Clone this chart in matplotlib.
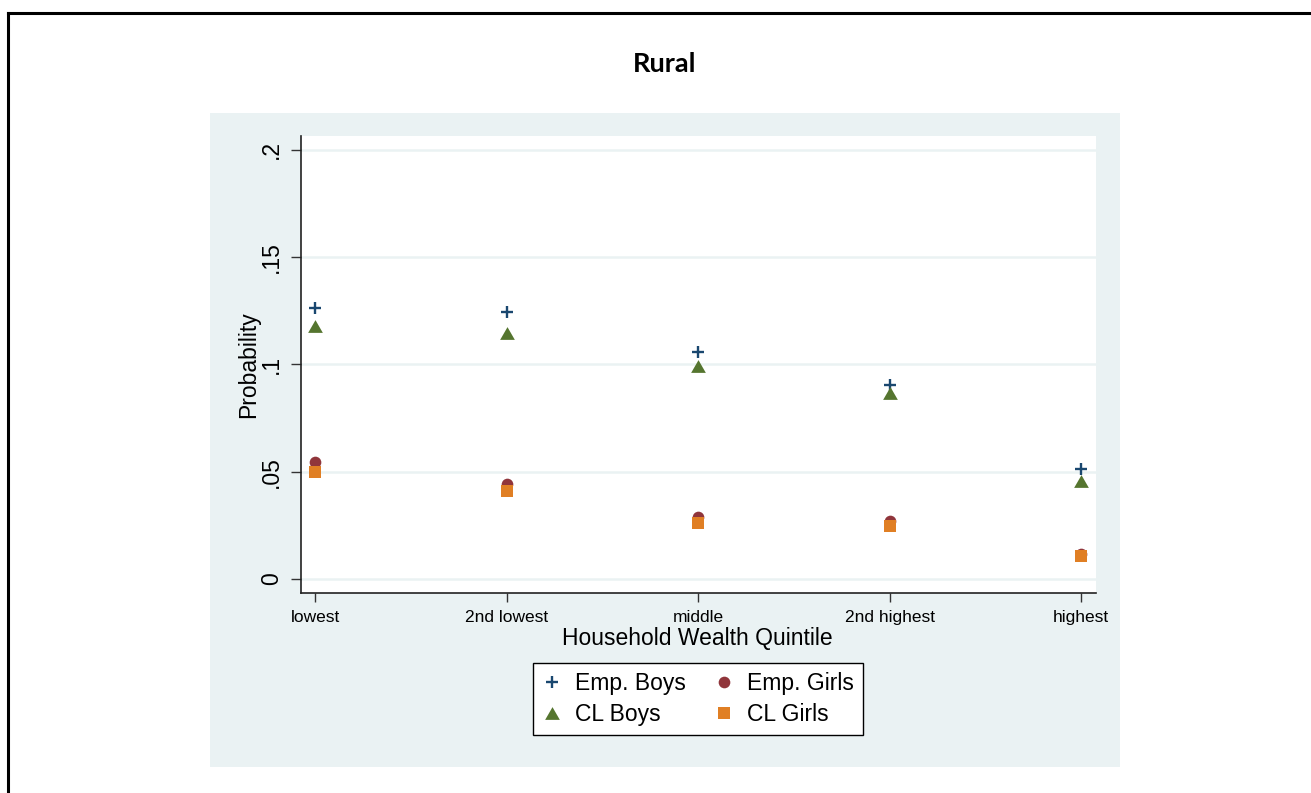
import numpy as np
import matplotlib
matplotlib.use("Agg")
import matplotlib.pyplot as plt
from matplotlib.lines import Line2D
from matplotlib.patches import Rectangle

plt.rcParams['font.family'] = ['Liberation Sans', 'DejaVu Sans']

quintiles = ["lowest", "2nd lowest", "middle", "2nd highest", "highest"]
emp_boys = [0.1262, 0.1243, 0.1060, 0.0903, 0.0514]
emp_girls = [0.0545, 0.0443, 0.0289, 0.0270, 0.0117]
cl_boys = [0.1180, 0.1149, 0.0995, 0.0865, 0.0457]
cl_girls = [0.0499, 0.0412, 0.0262, 0.0247, 0.0108]
yticks = [0, 0.05, 0.1, 0.15, 0.2]
ytick_labels = ["0", ".05", ".1", ".15", ".2"]

W, H = 1311, 793
fig = plt.figure(figsize=(W / 100, H / 100), dpi=100)
fig.patch.set_facecolor("white")

# outer frame (only top and left edges are inside the image)
fig.add_artist(Line2D([7.5 / W, 7.5 / W], [0, 1 - 13 / H], color="black", lw=2.2,
                      transform=fig.transFigure))
fig.add_artist(Line2D([7.5 / W, 1], [1 - 13 / H, 1 - 13 / H], color="black", lw=2.2,
                      transform=fig.transFigure))

# graph region
bg = "#eaf2f3"
fig.add_artist(Rectangle((210 / W, (H - 767) / H), 910 / W, 654 / H,
                         facecolor=bg, edgecolor="none", transform=fig.transFigure, zorder=0))

fig.text(665 / W, 1 - 64 / H, "Rural", ha="center", va="center",
         fontsize=19.5, fontweight="bold", family=["Lato", "DejaVu Sans"])

ax = fig.add_axes([301 / W, (H - 593) / H, 795 / W, 457 / H])
ax.set_facecolor("white")

x = np.arange(1, len(quintiles) + 1)
tri = [(-1, -0.866), (1, -0.866), (0, 0.866), (-1, -0.866)]

ax.plot(x, emp_boys, linestyle="none", marker="+", ms=8.6, mew=1.7,
        color="#1a476f", label="Emp. Boys", zorder=3)
ax.plot(x, emp_girls, linestyle="none", marker="o", ms=8.4, mew=0,
        color="#90353b", label="Emp. Girls", zorder=3)
ax.plot(x, cl_boys, linestyle="none", marker=tri, ms=10.6, mew=0,
        color="#55752f", label="CL Boys", zorder=3)
ax.plot(x, cl_girls, linestyle="none", marker="s", ms=8.6, mew=0,
        color="#e07f24", label="CL Girls", zorder=4)

ax.set_xlim(0.925, 5.078)
ax.set_ylim(-0.0065, 0.2065)

ax.set_yticks(yticks)
ax.set_yticklabels(ytick_labels, rotation=90, va="center", fontsize=16.5)
ax.set_xticks(x)
ax.set_xticklabels(quintiles, fontsize=12.5)
ax.tick_params(axis="y", length=7.2, width=1, pad=6, color="#333333")
ax.tick_params(axis="x", length=6.5, width=1, pad=5.5, color="#333333")

ax.grid(axis="y", color=bg, lw=1.8)
ax.set_axisbelow(True)

for s in ["top", "right"]:
    ax.spines[s].set_visible(False)
for s in ["left", "bottom"]:
    ax.spines[s].set_color("#222222")
    ax.spines[s].set_linewidth(1.2)

ax.set_xlabel("Household Wealth Quintile", fontsize=16.5)
ax.xaxis.set_label_coords(0.498, -0.1)
ax.xaxis.label.set_va("center")
ax.set_ylabel("Probability", fontsize=16.5)
ax.yaxis.set_label_coords(-0.0654, 0.499)
ax.yaxis.label.set_va("center")

h, l = ax.get_legend_handles_labels()
order = [0, 2, 1, 3]
leg = fig.legend([h[i] for i in order], [l[i] for i in order], ncol=2,
                 loc="center", bbox_to_anchor=(698 / W, (H - 699) / H),
                 fontsize=16.5, frameon=True, fancybox=False, framealpha=1,
                 edgecolor="black", handlelength=0.9, handletextpad=0.55,
                 columnspacing=1.2, labelspacing=0.32, borderpad=0.4)
leg.get_frame().set_linewidth(1.0)

fig.savefig("out.png", dpi=100)
